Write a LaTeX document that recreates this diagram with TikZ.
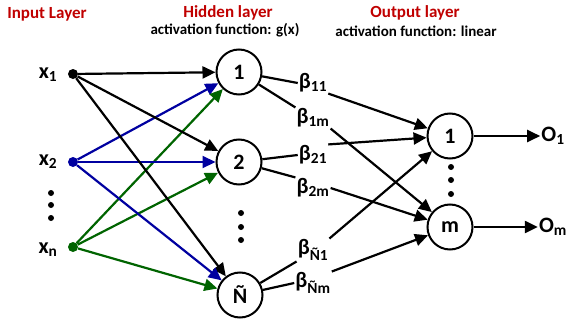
\documentclass[tikz,border=0pt]{standalone}
\usepackage{fontspec}
\setmainfont{Carlito}
\usetikzlibrary{arrows.meta}
\definecolor{tred}{RGB}{192,0,0}
\definecolor{nblue}{RGB}{0,0,160}
\definecolor{ngreen}{RGB}{0,100,0}
\begin{document}
\begin{tikzpicture}[x=1pt,y=-1pt,
  >={Triangle[length=13pt,width=12pt]},
  conn/.style={line width=2.2pt,->},
  seg/.style={line width=2.2pt},
  neuron/.style={circle,draw,line width=2pt,minimum size=45pt,inner sep=0pt,font=\fontsize{22}{22}\selectfont\bfseries},
  indot/.style={circle,inner sep=0pt,minimum size=10pt},
  xlab/.style={font=\fontsize{22}{22}\selectfont\bfseries,inner sep=1pt},
  blab/.style={font=\fontsize{22}{22}\selectfont\bfseries,inner sep=1pt},
  title/.style={text=tred,font=\fontsize{17}{17}\selectfont\bfseries},
  subtitle/.style={font=\fontsize{15}{15}\selectfont\bfseries},
  edot/.style={circle,fill=black,inner sep=0pt,minimum size=6pt}]
\useasboundingbox (0,0) rectangle (571,324);
% titles
\node[title] (t1) at (47,14) {Input Layer};
\node[title] (t2) at (228,13) {Hidden layer};
\node[subtitle] (s2) at (225,30) {activation function: g(x)};
\node[title] (t3) at (415,13) {Output layer};
\node[subtitle] (s3) at (416,31) {activation function: linear};
% inputs
\node[indot,fill=black] (x1) at (73,74) {};
\node[indot,fill=nblue] (x2) at (73,162) {};
\node[indot,fill=ngreen] (xn) at (73,247) {};
\node[xlab] (lx1) at (48,75) {x\textsubscript{1}};
\node[xlab] (lx2) at (48,162) {x\textsubscript{2}};
\node[xlab] (lxn) at (48,250) {x\textsubscript{n}};
\node[edot] (ia) at (51,193) {};
\node[edot] (ib) at (51,205) {};
\node[edot] (ic) at (51,218) {};
% hidden
\node[neuron] (h1) at (239,72) {1};
\node[neuron] (h2) at (239,162) {2};
\node[neuron] (hN) at (240,295) {Ñ};
\node[edot] (ha) at (241,213) {};
\node[edot] (hb) at (241,227) {};
\node[edot] (hc) at (241,240) {};
% output
\node[neuron] (o1) at (450,136) {1};
\node[neuron] (om) at (450,227) {m};
\node[edot] (oa) at (451,167) {};
\node[edot] (ob) at (451,180) {};
\node[edot] (oc) at (451,194) {};
\node[xlab] (O1) at (553,136) {O\textsubscript{1}};
\node[xlab] (Om) at (553,227) {O\textsubscript{m}};
% betas
\node[blab] (b11) at (313,83) {β\textsubscript{11}};
\node[blab] (b1m) at (313,118) {β\textsubscript{1m}};
\node[blab] (b21) at (313,155) {β\textsubscript{21}};
\node[blab] (b2m) at (313,188) {β\textsubscript{2m}};
\node[blab] (bN1) at (313,250) {β\textsubscript{Ñ1}};
\node[blab] (bNm) at (313,283) {β\textsubscript{Ñm}};
% input -> hidden
\foreach \h in {h1,h2,hN} {
  \draw[conn] (x1) -- (\h);
  \draw[conn,nblue] (x2) -- (\h);
  \draw[conn,ngreen] (xn) -- (\h);
}
% hidden -> betas -> outputs
\draw[seg] (h1) -- (b11.west);
\draw[conn] (b11.south east) -- (o1);
\draw[seg] (h1) -- (b1m.north west);
\draw[conn] (b1m.south east) -- (om);
\draw[seg] (h2) -- (b21.west);
\draw[conn] (b21.north east) -- (o1);
\draw[seg] (h2) -- (b2m.north west);
\draw[conn] (b2m.east) -- (om);
\draw[seg] (hN) -- (bN1.south west);
\draw[conn] (bN1.north east) -- (o1);
\draw[seg] (hN) -- (bNm.west);
\draw[conn] (bNm.north east) -- (om);
% outputs
\draw[conn] (o1) -- (O1);
\draw[conn] (om) -- (Om);
\end{tikzpicture}
\end{document}
